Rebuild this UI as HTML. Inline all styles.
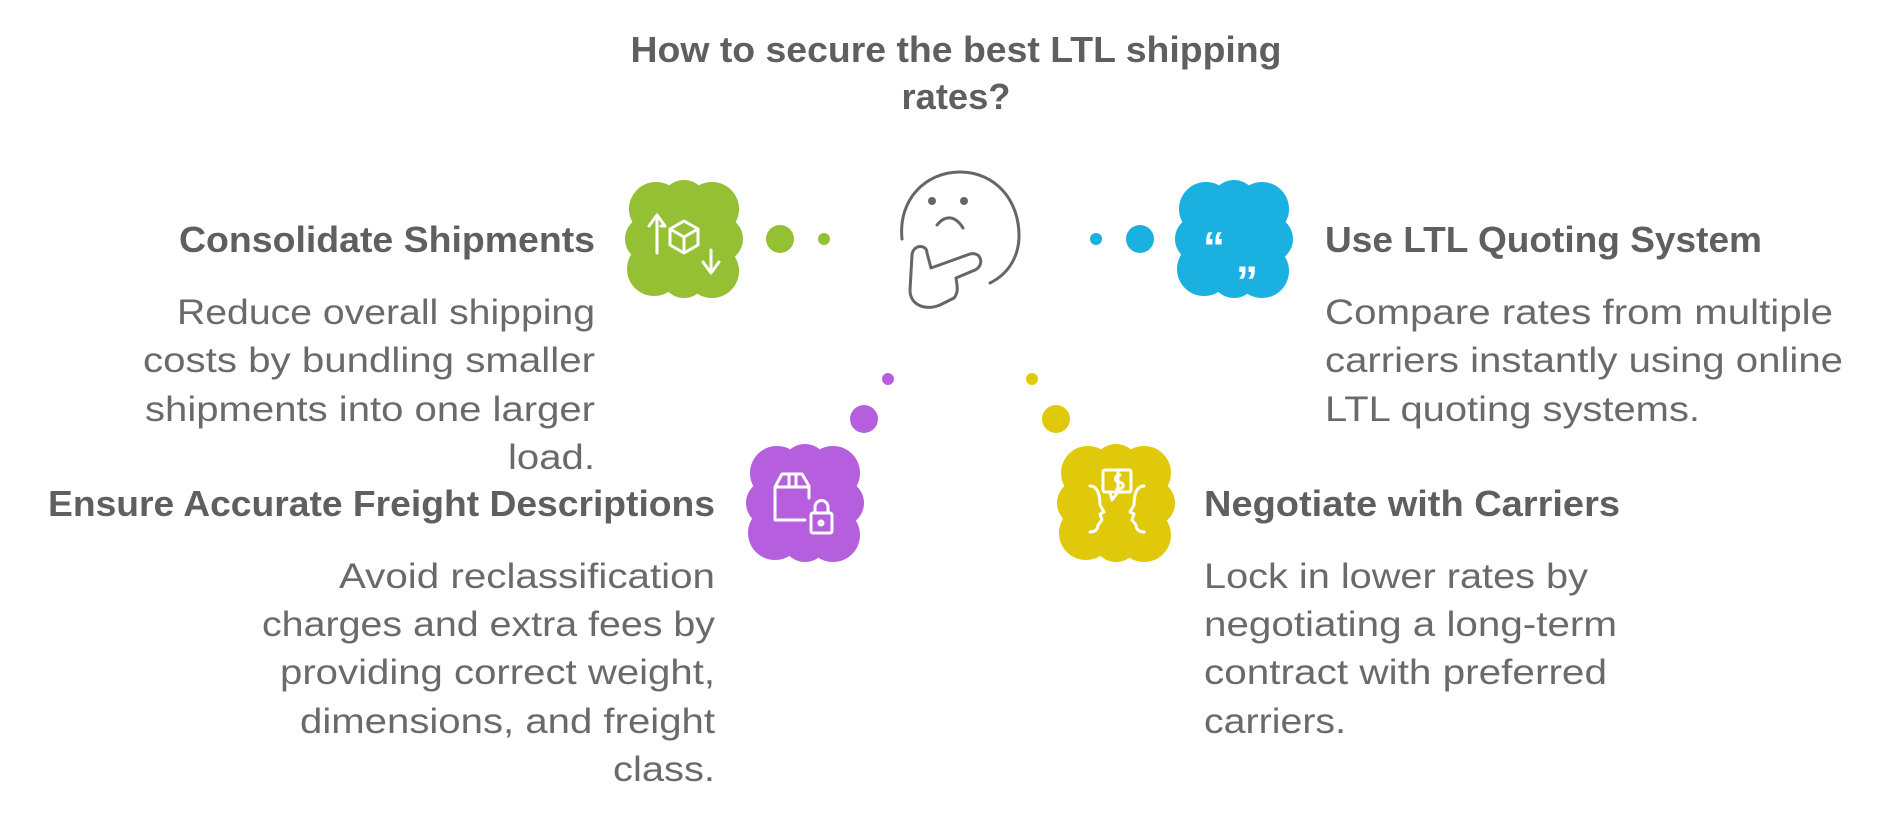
<!DOCTYPE html>
<html><head><meta charset="utf-8"><style>
html,body{margin:0;padding:0;background:#fff;}
svg{display:block;}
text{font-family:"Liberation Sans",sans-serif;}
.h{font-weight:bold;font-size:36px;fill:#5f5f5f;}
.b{font-size:35px;fill:#6a6a6a;}
.w{fill:none;stroke:#fff;stroke-width:3;stroke-linecap:round;stroke-linejoin:round;}
</style></head><body>
<svg width="1896" height="816" viewBox="0 0 1896 816" xmlns="http://www.w3.org/2000/svg">
<defs>
<g id="cloud">
<circle cx="0" cy="0" r="46"/><circle cx="-28" cy="-30" r="27"/><circle cx="28" cy="-30" r="27"/>
<circle cx="-30" cy="30" r="27"/><circle cx="28" cy="32" r="27"/><circle cx="0" cy="-36" r="23"/>
<circle cx="0" cy="36" r="23"/><circle cx="-36" cy="0" r="23"/><circle cx="36" cy="0" r="23"/>
</g>
</defs>
<text class="h" x="956" y="62" text-anchor="middle" textLength="651" lengthAdjust="spacingAndGlyphs">How to secure the best LTL shipping</text>
<text class="h" x="956" y="109" text-anchor="middle" textLength="109" lengthAdjust="spacingAndGlyphs">rates?</text>

<use href="#cloud" x="684" y="239" fill="#95c034"/>
<use href="#cloud" x="1234" y="239" fill="#1ab0e0"/>
<use href="#cloud" x="805" y="503" fill="#b55fde"/>
<use href="#cloud" x="1116" y="503" fill="#e0c90a"/>

<ellipse cx="780" cy="239" rx="14" ry="14" fill="#95c034"/><circle cx="824" cy="239" r="6" fill="#95c034"/>
<circle cx="1096" cy="239" r="6" fill="#1ab0e0"/><ellipse cx="1140" cy="239" rx="14" ry="14" fill="#1ab0e0"/>
<circle cx="888" cy="379" r="6" fill="#b55fde"/><circle cx="864" cy="419" r="14" fill="#b55fde"/>
<circle cx="1032" cy="379" r="6" fill="#e0c90a"/><circle cx="1056" cy="419" r="14" fill="#e0c90a"/>

<g fill="none" stroke="#666" stroke-width="3" stroke-linecap="round" stroke-linejoin="round">
<path d="M902,239 C898,200 925,172 960,172 C995,172 1020,200 1019,238 C1018,258 1008,274 990,283"/>
<path d="M937,225 C945,215 955,215 963,228"/>
<path d="M927,253 C927,244 913,244 912,255 L910,290 C910,305 925,311 940,305 L954,298 C959,292 957,285 956,278 L975,270 C985,265 981,251 970,254 L931,268 Z"/>
</g>
<circle cx="932" cy="201" r="4" fill="#666"/><circle cx="964" cy="201" r="4" fill="#666"/>

<g class="w">
<path d="M657,253 V218 M649,226 L657,215 L665,226 L661,226"/>
<path d="M684,221 L698,229 V245 L684,253 L670,245 V229 Z M670,229 L684,237 L698,229 M684,237 V253"/>
<path d="M711,250 V270 M703,262 L711,273 L719,262"/>
</g>
<text x="1203" y="262" font-size="44" font-weight="bold" fill="#fff">“</text>
<text x="1236" y="272" font-size="44" font-weight="bold" fill="#fff">„</text>
<g class="w">
<path d="M775,487 L782,474 H802 L809,486 V498 M775,487 V520 H805 M775,487 H809 M789,474 V487 M796,474 V487"/>
<rect x="811" y="513" width="21" height="20" rx="2"/><path d="M815,513 V507 A6.5,6.5 0 0 1 828,507 V513"/>
<circle cx="821" cy="523" r="2"/>
</g>
<g class="w">
<rect x="1103" y="470" width="28" height="22" rx="2"/><path d="M1110,492 L1112,500 L1118,492"/>
<path d="M1120,475 C1114,475 1114,482 1119,482 C1125,483 1125,489 1117,489 M1118,472 V492"/>
<path d="M1090,486 C1098,486 1100,496 1100,505 L1104,512 L1100,514 L1102,520 L1098,525 C1098,530 1094,532 1090,532"/>
<path d="M1144,486 C1136,486 1134,496 1134,505 L1130,512 L1134,514 L1132,520 L1136,525 C1136,530 1140,532 1144,532"/>
</g>

<text class="h" x="595" y="252" text-anchor="end" textLength="416" lengthAdjust="spacingAndGlyphs">Consolidate Shipments</text>
<text class="b" x="595" y="324" text-anchor="end" textLength="418" lengthAdjust="spacingAndGlyphs">Reduce overall shipping</text>
<text class="b" x="595" y="372" text-anchor="end" textLength="452" lengthAdjust="spacingAndGlyphs">costs by bundling smaller</text>
<text class="b" x="595" y="421" text-anchor="end" textLength="450" lengthAdjust="spacingAndGlyphs">shipments into one larger</text>
<text class="b" x="595" y="469" text-anchor="end" textLength="87" lengthAdjust="spacingAndGlyphs">load.</text>

<text class="h" x="1325" y="252" textLength="437" lengthAdjust="spacingAndGlyphs">Use LTL Quoting System</text>
<text class="b" x="1325" y="324" textLength="508" lengthAdjust="spacingAndGlyphs">Compare rates from multiple</text>
<text class="b" x="1325" y="372" textLength="518" lengthAdjust="spacingAndGlyphs">carriers instantly using online</text>
<text class="b" x="1325" y="421" textLength="375" lengthAdjust="spacingAndGlyphs">LTL quoting systems.</text>

<text class="h" x="715" y="516" text-anchor="end" textLength="667" lengthAdjust="spacingAndGlyphs">Ensure Accurate Freight Descriptions</text>
<text class="b" x="715" y="588" text-anchor="end" textLength="376" lengthAdjust="spacingAndGlyphs">Avoid reclassification</text>
<text class="b" x="715" y="636" text-anchor="end" textLength="453" lengthAdjust="spacingAndGlyphs">charges and extra fees by</text>
<text class="b" x="715" y="684" text-anchor="end" textLength="435" lengthAdjust="spacingAndGlyphs">providing correct weight,</text>
<text class="b" x="715" y="733" text-anchor="end" textLength="415" lengthAdjust="spacingAndGlyphs">dimensions, and freight</text>
<text class="b" x="715" y="781" text-anchor="end" textLength="102" lengthAdjust="spacingAndGlyphs">class.</text>

<text class="h" x="1204" y="516" textLength="416" lengthAdjust="spacingAndGlyphs">Negotiate with Carriers</text>
<text class="b" x="1204" y="588" textLength="384" lengthAdjust="spacingAndGlyphs">Lock in lower rates by</text>
<text class="b" x="1204" y="636" textLength="413" lengthAdjust="spacingAndGlyphs">negotiating a long-term</text>
<text class="b" x="1204" y="684" textLength="403" lengthAdjust="spacingAndGlyphs">contract with preferred</text>
<text class="b" x="1204" y="733" textLength="142" lengthAdjust="spacingAndGlyphs">carriers.</text>
</svg>
</body></html>
